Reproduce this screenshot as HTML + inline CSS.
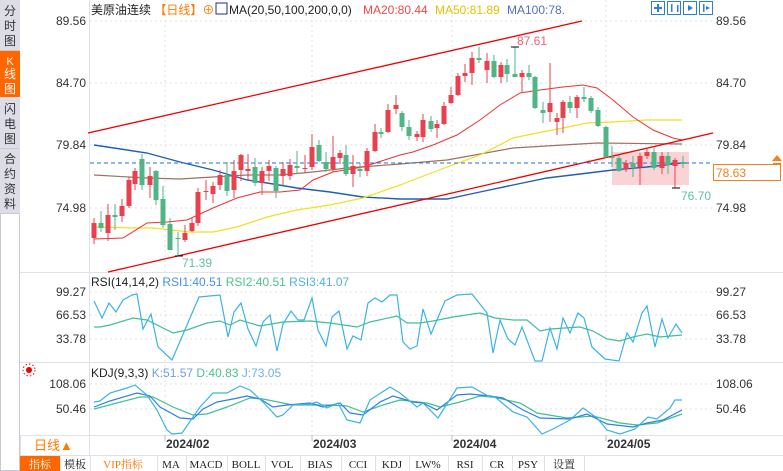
<!DOCTYPE html>
<html><head><meta charset="utf-8"><style>
body{margin:0;width:783px;height:471px;overflow:hidden;background:#fff;font-family:"Liberation Sans","Noto Sans CJK SC",sans-serif}
svg{position:absolute;left:0;top:0}
</style></head><body>
<svg id="s" width="783" height="471" xmlns="http://www.w3.org/2000/svg" font-family="Liberation Sans, Noto Sans CJK SC, sans-serif">
<!-- sidebar -->
<rect x="0" y="0" width="20" height="471" fill="#fff"/>
<rect x="0" y="0" width="20" height="213" fill="#dcdde6"/>
<rect x="0" y="51" width="20" height="46" fill="#ff6600"/>
<line x1="0" y1="50.5" x2="20" y2="50.5" stroke="#c8c9d2"/>
<line x1="0" y1="148.5" x2="20" y2="148.5" stroke="#c8c9d2"/>
<rect x="0.5" y="213.5" width="19" height="257" fill="#fff" stroke="#c8c9d2"/>
<g font-size="12" fill="#333" text-anchor="middle">
<text x="10" y="15">分</text><text x="10" y="30">时</text><text x="10" y="45">图</text>
<text x="10" y="65" fill="#fff" font-size="11">K</text><text x="10" y="78" fill="#fff">线</text><text x="10" y="93" fill="#fff">图</text>
<text x="10" y="113">闪</text><text x="10" y="128">电</text><text x="10" y="143">图</text>
<text x="10" y="163">合</text><text x="10" y="178">约</text><text x="10" y="193">资</text><text x="10" y="208">料</text>
</g>
<line x1="89.5" y1="0" x2="89.5" y2="455" stroke="#dde3ea"/>
<line x1="20" y1="272.5" x2="783" y2="272.5" stroke="#dde3ea"/>
<line x1="20" y1="362.5" x2="783" y2="362.5" stroke="#dde3ea"/>
<line x1="20" y1="435.5" x2="783" y2="435.5" stroke="#dde3ea"/>
<line x1="20" y1="455.5" x2="783" y2="455.5" stroke="#dde3ea"/>
<!-- grid -->
<g stroke="#e2e2e2" stroke-dasharray="2,3">
<line x1="90" y1="21" x2="712" y2="21"/><line x1="90" y1="83" x2="712" y2="83"/><line x1="90" y1="145" x2="712" y2="145"/><line x1="90" y1="208" x2="712" y2="208"/>
<line x1="90" y1="292" x2="712" y2="292"/><line x1="90" y1="315" x2="712" y2="315"/><line x1="90" y1="339" x2="712" y2="339"/>
<line x1="90" y1="384" x2="712" y2="384"/><line x1="90" y1="409" x2="712" y2="409"/>
<line x1="165" y1="0" x2="165" y2="435"/><line x1="312" y1="0" x2="312" y2="435"/><line x1="452" y1="0" x2="452" y2="435"/><line x1="606" y1="0" x2="606" y2="435"/>
</g>
<!-- axis labels -->
<g font-size="12" fill="#333" text-anchor="end">
<text x="86" y="25">89.56</text><text x="86" y="87">84.70</text><text x="86" y="149">79.84</text><text x="86" y="212">74.98</text>
<text x="86" y="296">99.27</text><text x="86" y="319">66.53</text><text x="86" y="343">33.78</text>
<text x="86" y="388">108.06</text><text x="86" y="413">50.46</text>
</g>
<g font-size="12" fill="#333">
<text x="716" y="25">89.56</text><text x="716" y="87">84.70</text><text x="716" y="149">79.84</text><text x="716" y="212">74.98</text>
<text x="716" y="296">99.27</text><text x="716" y="319">66.53</text><text x="716" y="343">33.78</text>
<text x="716" y="388">108.06</text><text x="716" y="413">50.46</text>
</g>
<!-- headers -->
<g font-size="12">
<text x="91" y="14" fill="#222">美原油连续 <tspan fill="#ff7a00">【日线】⊕</tspan></text>
<rect x="216" y="3" width="11" height="11" fill="#fff" stroke="#203080"/>
<text x="229" y="14" fill="#222">MA(20,50,100,200,0,0)</text>
<text x="363" y="14" fill="#f04848">MA20:80.44</text>
<text x="435" y="14" fill="#e6c000">MA50:81.89</text>
<text x="507" y="14" fill="#5070c0">MA100:78.</text>
<text x="91" y="286" fill="#222">RSI(14,14,2) <tspan fill="#4a8ee8">RSI1:40.51</tspan> <tspan fill="#50c090">RSI2:40.51</tspan> <tspan fill="#50b0e0">RSI3:41.07</tspan></text>
<text x="91" y="377" fill="#222">KDJ(9,3,3) <tspan fill="#6a9ef0">K:51.57</tspan> <tspan fill="#50c090">D:40.83</tspan> <tspan fill="#6ab0f0">J:73.05</tspan></text>
</g>
<circle cx="29" cy="370" r="3" fill="#e00"/><circle cx="29" cy="370" r="6" fill="none" stroke="#e00" stroke-dasharray="1.5,2"/>
<g fill="#fff" stroke="#2d7fd0">
<rect x="651.5" y="1.5" width="13" height="13"/><rect x="667.5" y="1.5" width="13" height="13"/><rect x="683.5" y="1.5" width="13" height="13"/><rect x="699.5" y="1.5" width="13" height="13"/>
</g>
<g fill="#2d7fd0"><rect x="657" y="4" width="2" height="8"/><rect x="654" y="7" width="8" height="2"/><rect x="671" y="4" width="1.5" height="8"/><rect x="677" y="5" width="1.5" height="7"/><polygon points="688,5 693,8 688,11"/><rect x="703" y="4" width="1.5" height="8"/><polygon points="706,6 710,8 706,10"/></g>
<!-- pink rect -->
<rect x="612" y="152" width="77" height="33" fill="#f9c8cc" opacity="0.8"/>
<g id="main"></g>
<g id="ind"></g>
<!-- annotations -->
<g font-size="12">
<text x="517" y="45" fill="#f06070">87.61</text>
<text x="182" y="267" fill="#60c0a0">71.39</text>
<text x="681" y="200" fill="#60c0a0">76.70</text>
</g>
<g stroke="#000" stroke-width="1"><line x1="511" y1="47" x2="519" y2="47"/><line x1="175" y1="256" x2="183" y2="256"/><line x1="672" y1="188" x2="680" y2="188"/></g>
<rect x="713.5" y="164.5" width="67" height="16" fill="#fff" stroke="#f08020"/>
<text x="716" y="177" font-size="12" fill="#f08020">78.63</text>
<polygon points="772,161 777,155 782,161" fill="#f08020"/>
<line x1="773" y1="163.5" x2="781" y2="163.5" stroke="#f08020"/>
<!-- dates -->
<g stroke="#bbb"><line x1="165" y1="435" x2="165" y2="441"/><line x1="312" y1="435" x2="312" y2="441"/><line x1="452" y1="435" x2="452" y2="441"/><line x1="606" y1="435" x2="606" y2="441"/></g>
<g font-size="12" fill="#333" font-weight="bold"><text x="166" y="448">2024/02</text><text x="313" y="448">2024/03</text><text x="453" y="448">2024/04</text><text x="607" y="448">2024/05</text></g>
<rect x="20.5" y="435.5" width="69" height="20" fill="#fff" stroke="#dde3ea"/>
<text x="34" y="450" font-size="13" fill="#ff7a00">日线▲</text>
<!-- toolbar -->
<rect x="20" y="456" width="40" height="15" fill="#ff6600"/>
<g font-family="Liberation Serif, Noto Serif CJK SC, serif" font-size="11" fill="#222" text-anchor="middle">
<text x="40" y="468" fill="#fff">指标</text><text x="75" y="468">模板</text><text x="123" y="468" fill="#ff7a00">VIP指标</text>
<text x="171" y="468">MA</text><text x="206" y="468">MACD</text><text x="246" y="468">BOLL</text><text x="282" y="468">VOL</text>
<text x="320" y="468">BIAS</text><text x="358" y="468">CCI</text><text x="392" y="468">KDJ</text><text x="428" y="468">LW%</text>
<text x="465" y="468">RSI</text><text x="497" y="468">CR</text><text x="528" y="468">PSY</text><text x="564" y="468">设置</text>
</g>
<g stroke="#dde3ea"><line x1="60.5" y1="456" x2="60.5" y2="471"/><line x1="90.5" y1="456" x2="90.5" y2="471"/><line x1="157.5" y1="456" x2="157.5" y2="471"/><line x1="186.5" y1="456" x2="186.5" y2="471"/><line x1="227.5" y1="456" x2="227.5" y2="471"/><line x1="265.5" y1="456" x2="265.5" y2="471"/><line x1="300.5" y1="456" x2="300.5" y2="471"/><line x1="341.5" y1="456" x2="341.5" y2="471"/><line x1="375.5" y1="456" x2="375.5" y2="471"/><line x1="409.5" y1="456" x2="409.5" y2="471"/><line x1="448.5" y1="456" x2="448.5" y2="471"/><line x1="482.5" y1="456" x2="482.5" y2="471"/><line x1="512.5" y1="456" x2="512.5" y2="471"/><line x1="544.5" y1="456" x2="544.5" y2="471"/><line x1="584.5" y1="456" x2="584.5" y2="471"/></g>
</svg>
<script>
var NS="http://www.w3.org/2000/svg";
function el(p,t,a){var e=document.createElementNS(NS,t);for(var k in a)e.setAttribute(k,a[k]);p.appendChild(e);return e;}
var M=document.getElementById('main'),I=document.getElementById('ind');
function pl(p,pts,c,w,d){var a={points:pts.map(function(q){return q.join(',')}).join(' '),fill:'none',stroke:c,'stroke-width':w||1};if(d)a['stroke-dasharray']=d;el(p,'polyline',a);}
// MAs
pl(M,[[94,145],[147,153],[180,162],[213,170],[247,180],[267,183],[297,188],[330,192],[363,197],[400,199],[447,199],[480,192],[513,185],[547,178],[580,174],[613,170],[647,167],[682,163]],'#2060b0',1.4);
pl(M,[[94,175],[147,178],[180,179],[213,177],[247,175],[280,175],[313,172],[347,168],[400,164],[447,160],[513,148],[563,145],[597,143],[682,144]],'#a07060',1.2);
pl(M,[[94,227],[140,228],[153,228],[190,232],[213,232],[237,227],[267,217],[297,210],[330,205],[363,198],[400,185],[413,180],[447,167],[480,155],[513,138],[537,133],[563,128],[587,123],[613,122],[647,120],[682,120]],'#f0e020',1.2);
pl(M,[[94,239],[123,238],[147,223],[167,222],[187,220],[213,208],[237,198],[260,192],[280,192],[300,190],[313,180],[333,172],[363,167],[400,155],[413,152],[433,145],[457,135],[480,120],[500,105],[520,93],[540,90],[563,87],[583,85],[597,88],[613,100],[633,117],[653,130],[673,138],[682,140]],'#f03030',1);
pl(M,[[88,133],[582,21]],'#f00000',1.3);
pl(M,[[108,272],[713,133]],'#f00000',1.3);
pl(M,[[90,163],[712,163]],'#2070d0',1,'4,3');
// candles: x,color,top,bottom,wt,wb
var C=[[94,'R',223,238,218,244],[101,'G',223,228,211,232],[108,'R',215,233,204,241],[115,'G',215,217,204,230],[122,'R',206,216,199,222],[129,'R',180,206,177,208],[135,'R',171,184,168,190],[142,'G',159,185,154,190],[150,'R',176,185,167,198],[156,'G',171,200,170,205],[163,'G',199,225,186,228],[170,'G',224,250,218,250],[178,'G',238,239,232,256],[185,'R',233,240,225,242],[192,'R',223,231,218,232],[198,'R',192,223,188,226],[206,'R',191,192,180,200],[213,'R',186,194,182,203],[220,'R',175,185,170,190],[227,'G',175,191,162,196],[234,'R',171,190,160,198],[241,'R',155,170,154,181],[248,'R',169,171,154,180],[255,'G',167,183,158,186],[262,'R',171,183,167,195],[269,'R',166,171,160,181],[276,'G',168,191,166,198],[283,'R',169,176,162,185],[290,'R',165,176,159,180],[297,'G',166,168,151,174],[305,'R',168,169,155,173],[312,'R',147,167,134,170],[319,'G',145,161,140,162],[326,'G',162,169,152,172],[333,'R',157,169,136,172],[340,'R',153,158,150,164],[346,'G',155,174,145,176],[353,'R',166,174,155,187],[360,'G',169,171,163,177],[367,'R',151,171,148,176],[375,'R',132,151,124,152],[381,'G',132,134,128,138],[388,'R',110,132,104,133],[396,'R',105,109,95,114],[402,'G',113,127,111,131],[409,'G',127,136,120,140],[417,'R',134,137,131,141],[423,'R',120,137,114,142],[431,'G',121,129,116,132],[437,'R',124,128,120,138],[444,'R',106,124,102,125],[451,'R',95,103,87,104],[458,'R',76,95,73,96],[465,'R',73,76,64,82],[472,'R',58,73,52,85],[479,'G',58,60,47,63],[487,'R',61,70,53,83],[494,'G',61,77,55,78],[501,'R',65,77,62,83],[507,'G',65,74,59,82],[515,'G',74,77,47,75],[522,'R',73,77,70,93],[529,'G',73,77,65,80],[535,'G',77,108,76,109],[543,'G',110,113,102,123],[550,'R',103,112,63,122],[557,'R',118,122,113,135],[563,'R',102,118,100,133],[570,'G',102,108,96,113],[577,'R',97,108,95,118],[584,'G',97,99,87,102],[591,'G',98,111,96,113],[598,'G',110,126,107,127],[606,'G',127,157,126,158],[612,'G',157,158,146,167],[619,'G',158,171,155,172],[626,'R',163,169,160,172],[633,'G',163,167,156,177],[640,'R',156,167,153,185],[647,'R',152,156,149,159],[654,'G',152,168,148,170],[662,'R',156,168,152,174],[668,'G',156,165,152,174],[675,'R',160,166,158,188],[683,'G',162,164,156,168]];
C.forEach(function(c){var col=c[1]=='R'?'#e8404f':'#4fb585';
el(M,'line',{x1:c[0],y1:c[4],x2:c[0],y2:c[5],stroke:col,'stroke-width':1});
el(M,'rect',{x:c[0]-2.5,y:c[2],width:5,height:Math.max(1,c[3]-c[2]),fill:col});});
// RSI
pl(I,[[94,327],[100,327],[110,325],[133,318],[147,320],[173,333],[187,330],[207,323],[220,321],[230,325],[240,320],[260,326],[283,322],[310,321],[330,323],[357,327],[370,322],[397,316],[407,323],[420,323],[433,321],[453,317],[480,313],[495,318],[513,320],[527,320],[540,331],[550,329],[580,327],[593,331],[607,339],[620,341],[633,337],[647,334],[660,337],[682,335]],'#40c090',1.2);
pl(I,[[94,301],[102,318],[109,303],[116,312],[123,300],[132,295],[137,294],[143,329],[151,314],[158,347],[172,360],[199,297],[220,295],[228,337],[234,312],[241,303],[248,329],[256,346],[263,322],[270,315],[277,351],[283,324],[291,311],[298,320],[304,320],[312,298],[318,330],[326,346],[332,317],[339,311],[347,349],[353,336],[361,340],[368,303],[375,298],[382,302],[390,295],[397,295],[403,342],[410,349],[417,346],[423,309],[431,334],[445,301],[457,295],[472,294],[487,313],[493,353],[500,320],[508,339],[515,345],[522,327],[535,361],[542,361],[550,328],[557,349],[563,318],[570,333],[578,313],[584,318],[592,347],[605,359],[619,361],[627,333],[633,342],[642,313],[647,306],[655,347],[662,319],[668,338],[676,324],[682,333]],'#3ab4e4',1.2);
// KDJ
pl(I,[[94,409],[117,403],[140,397],[153,397],[173,407],[193,415],[207,414],[227,407],[250,398],[263,399],[293,405],[327,405],[347,406],[363,412],[383,405],[400,400],[427,403],[440,407],[460,402],[480,396],[493,397],[520,403],[537,413],[567,418],[593,416],[620,423],[637,425],[657,423],[682,414]],'#40c090',1.2);
pl(I,[[94,407],[110,401],[137,393],[150,396],[160,407],[180,418],[193,419],[203,409],[217,402],[233,399],[247,396],[260,399],[273,407],[287,405],[310,403],[323,407],[340,403],[350,413],[363,415],[380,402],[393,396],[413,402],[423,403],[437,410],[457,395],[470,394],[490,396],[503,398],[523,410],[540,418],[570,419],[587,414],[607,424],[633,427],[647,423],[663,420],[682,410]],'#2f7fe8',1.2);
pl(I,[[94,402],[100,401],[110,393],[127,388],[135,385],[147,395],[157,410],[167,430],[172,434],[182,433],[193,417],[200,407],[213,393],[227,393],[240,386],[250,390],[263,402],[277,417],[283,415],[293,405],[310,404],[317,402],[327,408],[338,403],[347,420],[360,423],[370,400],[390,387],[400,393],[417,407],[423,403],[438,418],[457,388],[472,387],[490,397],[495,397],[513,412],[527,417],[542,434],[553,429],[570,420],[583,408],[597,418],[607,430],[620,434],[635,429],[648,417],[657,419],[670,408],[675,400],[682,400]],'#3ab4e4',1.2);
</script>
</body></html>
